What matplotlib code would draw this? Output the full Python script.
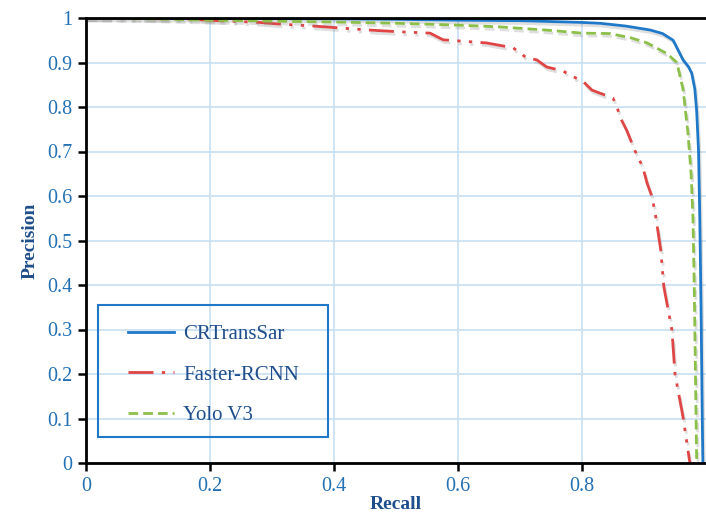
# PR曲线: CRTransSar / Faster-RCNN / Yolo V3
from matplotlib import pyplot as plt
from matplotlib import patheffects as pe
from matplotlib.patches import Rectangle

plt.rcParams['font.family'] = ['Liberation Serif', 'DejaVu Serif']

# CRTransSar
recall_crt = [0, 0.2, 0.4, 0.5, 0.6, 0.7, 0.75, 0.8, 0.83, 0.87, 0.91, 0.93, 0.947,
              0.963, 0.972, 0.977, 0.982, 0.985, 0.988, 0.99, 0.992, 0.994, 0.995]
prec_crt = [1.0, 0.999, 0.998, 0.997, 0.995, 0.994, 0.992, 0.99, 0.988, 0.982, 0.973, 0.965, 0.95,
            0.906, 0.89, 0.876, 0.84, 0.79, 0.7, 0.55, 0.35, 0.1, 0.0]

# Faster-RCNN
recall_frcnn = [0, 0.156, 0.2, 0.28, 0.306, 0.366, 0.456, 0.506, 0.555, 0.576, 0.646, 0.689,
                0.711, 0.727, 0.743, 0.769, 0.786, 0.802, 0.816, 0.85, 0.858, 0.864, 0.872,
                0.885, 0.898, 0.905, 0.913, 0.919, 0.927, 0.932, 0.945, 0.95, 0.963, 0.974]
prec_frcnn = [1.0, 0.998, 0.995, 0.99, 0.987, 0.982, 0.973, 0.969, 0.966, 0.951, 0.944, 0.933,
              0.91, 0.906, 0.89, 0.881, 0.868, 0.857, 0.838, 0.82, 0.793, 0.77, 0.748,
              0.703, 0.665, 0.629, 0.598, 0.553, 0.479, 0.396, 0.299, 0.2, 0.103, 0.0]

# Yolo V3
recall_yolo = [0, 0.1, 0.2, 0.3, 0.4, 0.506, 0.6, 0.668, 0.75, 0.8, 0.845, 0.88, 0.905, 0.937,
               0.953, 0.963, 0.971, 0.976, 0.979, 0.981, 0.983, 0.985]
prec_yolo = [1.0, 0.998, 0.995, 0.993, 0.991, 0.988, 0.984, 0.98, 0.972, 0.966, 0.965, 0.955,
             0.944, 0.92, 0.9, 0.84, 0.74, 0.65, 0.55, 0.4, 0.2, 0.0]

xticks = [0, 0.2, 0.4, 0.6, 0.8]
yticks = [0, 0.1, 0.2, 0.3, 0.4, 0.5, 0.6, 0.7, 0.8, 0.9, 1]

fig = plt.figure(figsize=(7.06, 5.13), dpi=100)
ax = fig.add_axes([86 / 706, 50 / 513, 620 / 706, 445 / 513])

shadow = [pe.SimpleLineShadow(offset=(1, -2), shadow_color='gray', alpha=0.25), pe.Normal()]
l1, = ax.plot(recall_crt, prec_crt, color='#1f78c8', lw=2, label='CRTransSar', path_effects=shadow)
l2, = ax.plot(recall_frcnn, prec_frcnn, color='#e04545', lw=2, ls=(0, (9, 3, 1.2, 3, 1.2, 3)),
              label='Faster-RCNN', path_effects=shadow)
l3, = ax.plot(recall_yolo, prec_yolo, color='#8cc04a', lw=2, ls=(0, (3.5, 1.8)),
              label='Yolo V3', path_effects=shadow)

ax.set_xlim(0, 1)
ax.set_ylim(0, 1)
ax.set_xticks(xticks)
ax.set_xticklabels([f'{t:g}' for t in xticks])
ax.set_yticks(yticks)
ax.set_yticklabels([f'{t:g}' for t in yticks])
ax.grid(True, color='#c8dff2', lw=1.2)
ax.set_axisbelow(True)

for s in ['left', 'bottom', 'top']:
    ax.spines[s].set_linewidth(2)
    ax.spines[s].set_color('black')
ax.spines['right'].set_visible(False)

ax.tick_params(direction='out', length=6, width=1.8, color='black',
               labelsize=14.5, labelcolor='#2370b4', pad=4)
ax.set_xlabel('Recall', fontsize=14, fontweight='bold', color='#1f4e8c', labelpad=0)
ax.set_ylabel('Precision', fontsize=14, fontweight='bold', color='#1f4e8c', labelpad=6)

# 图例框是透明的, 网格线从里面穿过
ax.add_patch(Rectangle((0.019, 0.058), 0.371, 0.297, transform=ax.transAxes,
                       fill=False, edgecolor='#1f78c8', lw=1.5, zorder=5))
leg = ax.legend(loc='upper left', bbox_to_anchor=(0.0677, 0.311), frameon=False,
                fontsize=15, handlelength=2.2, handletextpad=0.45, labelspacing=1.0,
                borderpad=0, borderaxespad=0)
for t in leg.get_texts():
    t.set_color('#1f4e8c')
for h in leg.get_lines():
    h.set_path_effects([])

plt.savefig('out.png', dpi=100)
